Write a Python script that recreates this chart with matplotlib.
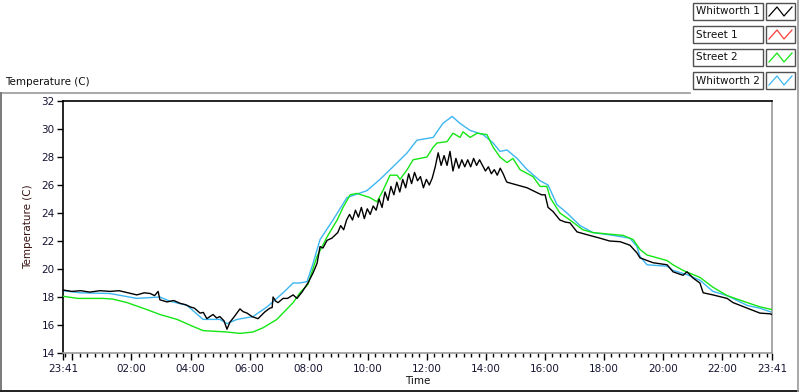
import matplotlib
matplotlib.use("Agg")
import matplotlib.pyplot as plt
from matplotlib.lines import Line2D
from matplotlib.patches import Rectangle
import numpy as np

plt.rcParams['font.family'] = ['DejaVu Sans']

# ---------------- data (hours since 23:41, temperature in C) ----------------
series_names = ["Whitworth 1", "Street 1", "Street 2", "Whitworth 2"]
series_colors = ["#000000", "#ff3b3b", "#14e614", "#3cb6f2"]

w1_t = [0.0, 0.3, 0.6, 0.9, 1.25, 1.6, 1.9, 2.2, 2.5, 2.75, 2.95, 3.1, 3.22, 3.28, 3.52, 3.75,
        3.96, 4.15, 4.30, 4.45, 4.64, 4.75, 4.87, 4.97, 5.08, 5.2, 5.31, 5.45, 5.55, 5.65, 5.8,
        5.99, 6.1, 6.23, 6.4, 6.6, 6.84, 7.0, 7.08, 7.11, 7.2, 7.28, 7.45, 7.6, 7.79, 7.92, 8.09,
        8.29, 8.46, 8.6, 8.70, 8.8, 8.94, 9.1, 9.2,
        9.3, 9.4, 9.5, 9.6, 9.7, 9.8, 9.9, 10.0, 10.1, 10.2, 10.3, 10.4, 10.5, 10.6, 10.7, 10.8,
        10.9, 11.0, 11.1, 11.2, 11.3, 11.4, 11.5, 11.6, 11.7, 11.8, 11.9, 12.0, 12.1, 12.2, 12.3,
        12.4, 12.5, 12.6, 12.7, 12.8, 12.9, 13.0, 13.1, 13.2, 13.3, 13.4, 13.5, 13.6, 13.7, 13.8,
        13.9, 14.0, 14.1, 14.2, 14.3, 14.4, 14.5, 14.6, 14.7, 14.8, 14.9, 15.0,
        15.03, 15.2, 15.37, 15.55, 15.71, 15.9, 16.05, 16.2, 16.32, 16.42, 16.59, 16.82, 17.0,
        17.16, 17.40, 17.74, 18.18, 18.5, 18.86, 19.19, 19.43, 19.53, 19.97, 20.45, 20.65, 20.99,
        21.12, 21.33, 21.56, 21.67, 22.00, 22.48, 22.68, 23.16, 23.59, 23.93, 24.0]
w1_v = [18.5, 18.4, 18.45, 18.35, 18.45, 18.4, 18.45, 18.3, 18.15, 18.3, 18.25, 18.1, 18.4, 17.8,
        17.65, 17.75, 17.55, 17.45, 17.3, 17.2, 16.85, 16.9, 16.45, 16.6, 16.75, 16.5, 16.6, 16.3,
        15.7, 16.2, 16.6, 17.15, 16.95, 16.85, 16.6, 16.45, 16.95, 17.2, 17.25, 18.0, 17.7, 17.6,
        17.9, 17.9, 18.15, 17.9, 18.35, 19.0, 19.7, 20.4, 21.6, 21.5, 22.05, 22.2, 22.4,
        22.6, 23.1, 22.8, 23.5, 23.9, 23.5, 24.2, 23.7, 24.4, 23.6, 24.3, 23.9, 24.5, 24.2, 25.0,
        24.4, 25.5, 24.9, 25.9, 25.3, 26.2, 25.5, 26.4, 25.8, 26.8, 26.1, 26.9, 26.3, 26.6, 25.8,
        26.4, 26.0, 26.5, 27.3, 28.3, 27.4, 28.1, 27.4, 28.4, 27.0, 27.9, 27.2, 27.8, 27.3, 27.8,
        27.3, 27.9, 27.4, 27.8, 27.4, 27.0, 27.3, 26.8, 27.1, 26.7, 27.2, 26.8, 26.3,
        26.2, 26.1, 26.0, 25.9, 25.8, 25.6, 25.45, 25.3, 25.3, 24.4, 24.1, 23.5, 23.35, 23.3,
        22.65, 22.45, 22.2, 22.0, 21.95, 21.7, 21.15, 20.8, 20.45, 20.3, 19.8, 19.55, 19.8, 19.35,
        19.0, 18.3, 18.15, 17.9, 17.6, 17.2, 16.85, 16.8, 16.75]

s1_t = []
s1_v = []

s2_t = [0.0, 0.5, 1.35, 1.69, 2.17, 2.84, 3.28, 3.86, 4.40, 4.74, 5.55, 5.99, 6.43, 6.77, 7.24,
        7.79, 8.02, 8.29, 8.60, 8.94, 9.28, 9.48, 9.72, 9.95, 10.39, 10.63, 10.83, 11.07, 11.31,
        11.41, 11.65, 11.85, 12.32, 12.53, 12.66, 13.00, 13.20, 13.44, 13.54, 13.78, 14.02, 14.35,
        14.56, 14.79, 15.03, 15.23, 15.47, 15.91, 16.15, 16.38, 16.49, 16.82, 17.16, 17.60, 17.94,
        18.96, 19.30, 19.53, 19.77, 20.45, 20.65, 20.99, 21.56, 22.00, 22.48, 23.16, 23.59, 24.0]
s2_v = [18.05, 17.9, 17.9, 17.85, 17.6, 17.1, 16.75, 16.4, 15.9, 15.6, 15.5, 15.4, 15.5, 15.8,
        16.4, 17.6, 18.3, 18.9, 20.9, 22.3, 23.5, 24.4, 25.3, 25.4, 25.1, 24.8, 25.6, 26.7, 26.7,
        26.4, 27.1, 27.8, 28.0, 28.7, 29.0, 29.1, 29.7, 29.4, 29.8, 29.4, 29.7, 29.6, 28.7, 28.0,
        27.6, 27.9, 27.1, 26.6, 25.9, 25.9, 25.1, 24.0, 23.5, 22.8, 22.6, 22.4, 22.1, 21.4, 21.0,
        20.6, 20.3, 19.9, 19.4, 18.7, 18.1, 17.6, 17.3, 17.1]

w2_t = [0.0, 0.58, 1.59, 2.5, 3.28, 3.62, 4.20, 4.74, 5.31, 5.55, 5.89, 6.43, 6.91, 7.45, 7.79,
        8.02, 8.26, 8.45, 8.70, 9.14, 9.61, 10.29, 10.73, 11.17, 11.65, 11.98, 12.53, 12.86, 13.17,
        13.44, 13.78, 14.22, 14.56, 14.79, 15.03, 15.37, 15.71, 16.15, 16.42, 16.72, 17.06, 17.50,
        17.94, 18.62, 19.19, 19.43, 19.53, 19.77, 20.45, 20.65, 21.12, 21.56, 22.00, 22.48, 23.16,
        23.59, 24.0]
w2_v = [18.45, 18.3, 18.25, 17.9, 18.0, 17.7, 17.4, 16.4, 16.4, 16.1, 16.4, 16.6, 17.3, 18.3,
        19.0, 19.0, 19.1, 20.3, 22.1, 23.5, 25.1, 25.6, 26.4, 27.3, 28.3, 29.2, 29.4, 30.4, 30.9,
        30.4, 29.9, 29.6, 29.0, 28.4, 28.5, 27.9, 27.1, 26.3, 26.0, 24.6, 24.0, 23.1, 22.6, 22.4,
        22.2, 21.6, 20.9, 20.3, 20.2, 19.9, 19.6, 19.2, 18.4, 18.1, 17.4, 17.2, 16.9]

# axis definitions
x_major = [0.0, 0.3167, 2.3167, 4.3167, 6.3167, 8.3167, 10.3167, 12.3167, 14.3167, 16.3167,
           18.3167, 20.3167, 22.3167, 24.0]
x_labels = ["23:41", "", "02:00", "04:00", "06:00", "08:00", "10:00", "12:00", "14:00", "16:00",
            "18:00", "20:00", "22:00", "23:41"]
y_ticks = [14, 16, 18, 20, 22, 24, 26, 28, 30, 32]

# ---------------- figure ----------------
W, H = 800, 392
fig = plt.figure(figsize=(W / 100, H / 100), dpi=100)
fig.patch.set_facecolor("white")


def fx(px):
    return px / W


def fy(py):
    return 1 - py / H


ax = fig.add_axes([fx(63), fy(353), fx(772) - fx(63), fy(101) - fy(353)])
ax.set_facecolor("white")

series = [(w1_t, w1_v), (s1_t, s1_v), (s2_t, s2_v), (w2_t, w2_v)]
zorders = [5, 3, 3, 2]
for (t, v), c, z in zip(series, series_colors, zorders):
    ax.plot(t, v, color=c, lw=1.0, zorder=z, antialiased=True)

ax.set_xlim(0, 24)
ax.set_ylim(14, 32)

ax.set_yticks(y_ticks)
ax.set_yticklabels([str(v) for v in y_ticks])
ax.set_xticks(x_major)
ax.set_xticklabels(x_labels)
minor = np.arange(0.3167 - 0.25, 24.0, 0.25)
ax.set_xticks(minor, minor=True)

tick_col = "#141432"
ax.tick_params(axis="y", direction="out", length=4, width=1, color="black",
               labelsize=7.5, labelcolor=tick_col, pad=2)
ax.tick_params(axis="x", which="major", direction="out", length=5, width=1, color="black",
               labelsize=7.5, labelcolor=tick_col, pad=3)
ax.tick_params(axis="x", which="minor", direction="out", length=3, width=1, color="black")

for s in ["left", "top"]:
    ax.spines[s].set_color("black")
    ax.spines[s].set_linewidth(1.2)
for s in ["right", "bottom"]:
    ax.spines[s].set_color("#9a9a9a")
    ax.spines[s].set_linewidth(1.2)

ax.set_ylabel("Temperature (C)", fontsize=7.5, color="#3a1212", labelpad=6)
ax.set_xlabel("Time", fontsize=7.5, color="#101010", labelpad=1)

# top-left caption
fig.text(fx(5), fy(82), "Temperature (C)", fontsize=7.5, color="#101010",
         ha="left", va="center")

# outer frame lines
gray = "#9a9a9a"
fig.add_artist(Line2D([fx(0), fx(690)], [fy(92.5), fy(92.5)], color=gray, lw=1.2))
fig.add_artist(Line2D([fx(0.8), fx(0.8)], [fy(92.5), fy(392)], color="#7a7a7a", lw=1.4))
fig.add_artist(Line2D([fx(0), fx(798)], [fy(391.2), fy(391.2)], color="#202020", lw=1.4))
fig.add_artist(Line2D([fx(798), fx(798)], [fy(0), fy(392)], color=gray, lw=1.2))

# legend
row_tops = [3, 26, 49, 72]
for name, col, top in zip(series_names, series_colors, row_tops):
    h = 17
    fig.add_artist(Rectangle((fx(693), fy(top + h)), fx(763) - fx(693), fy(top) - fy(top + h),
                             facecolor="white", edgecolor="#505050", lw=1.0,
                             transform=fig.transFigure))
    fig.text(fx(696), fy(top + h / 2), name, fontsize=7.5, color="#101010",
             ha="left", va="center")
    fig.add_artist(Rectangle((fx(766), fy(top + h)), fx(795) - fx(766), fy(top) - fy(top + h),
                             facecolor="white", edgecolor="#505050", lw=1.0,
                             transform=fig.transFigure))
    zx = [769, 777, 784, 792]
    zy = [top + 13, top + 4, top + 13, top + 4]
    fig.add_artist(Line2D([fx(p) for p in zx], [fy(p) for p in zy], color=col, lw=0.9))

fig.savefig("out.png", dpi=100, facecolor="white")
